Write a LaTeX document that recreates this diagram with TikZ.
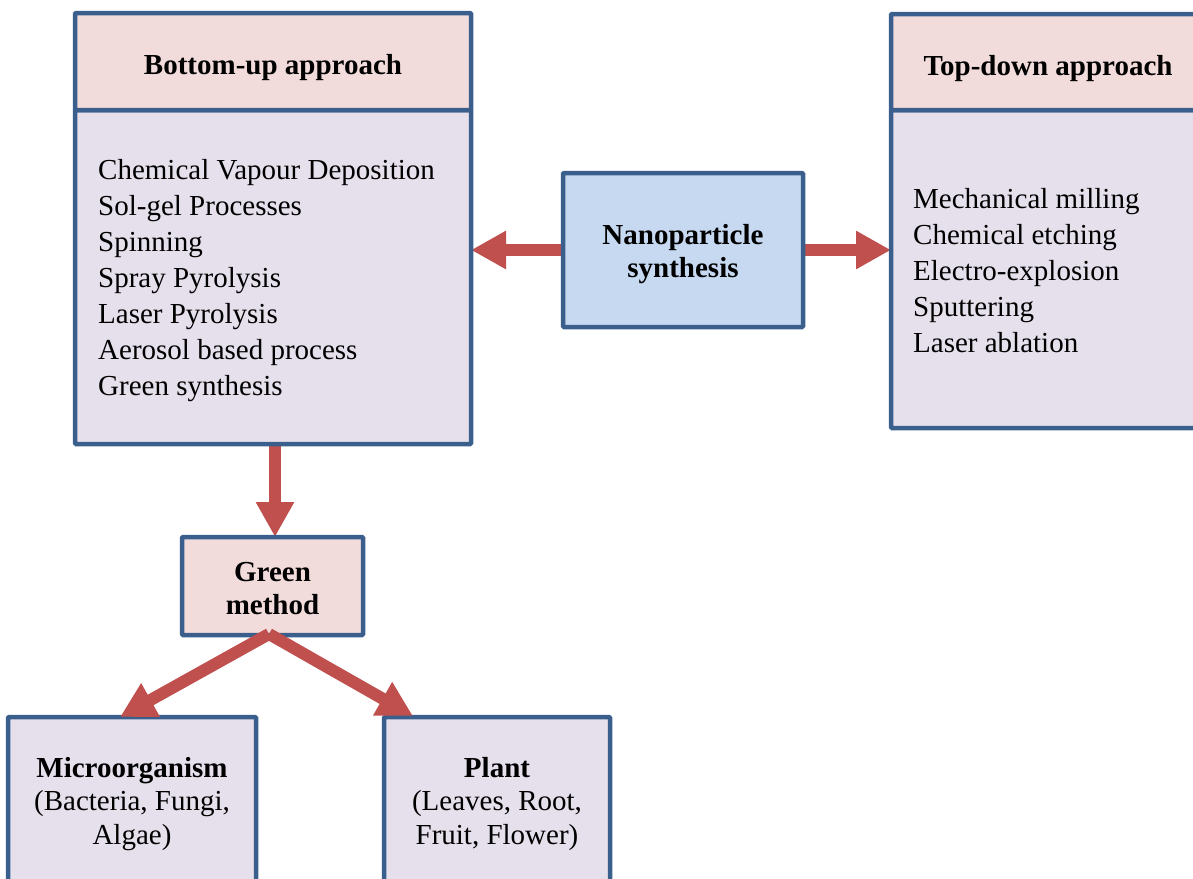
\documentclass[tikz,border=0pt]{standalone}
\usepackage{fontspec}
\setmainfont{Liberation Serif}
\usetikzlibrary{arrows.meta,backgrounds}
\definecolor{bordc}{HTML}{3B5F8D}
\definecolor{hdrc}{HTML}{F2DCDB}
\definecolor{bodyc}{HTML}{E5E0EC}
\definecolor{nanoc}{HTML}{C6D9F1}
\definecolor{arrc}{HTML}{C0504D}
\tikzset{
  box/.style={draw=bordc, line width=4.5pt, rounded corners=1pt, inner sep=0pt, outer sep=0pt},
  hdr/.style={box, fill=hdrc},
  bodybox/.style={box, fill=bodyc},
  nanobox/.style={box, fill=nanoc},
  boldtext/.style={font=\fontsize{29}{33}\selectfont\bfseries, align=center, inner sep=0pt},
  listtext/.style={font=\fontsize{29}{36}\selectfont, align=left, inner sep=0pt, anchor=west},
  leaftext/.style={font=\fontsize{29}{33.5}\selectfont, align=center, inner sep=0pt},
  blockarrow/.style={draw=arrc, line width=12pt, -{Triangle[width=36pt,length=35pt]}, arrc}
}
\begin{document}
\begin{tikzpicture}[x=1pt,y=-1pt]
\clip (0,0) rectangle (1193,878);
% Bottom-up approach
\node[bodybox, minimum width=396pt, minimum height=334pt] (bu) at (273,277) {};
\node[hdr, minimum width=396pt, minimum height=97pt] (buh) at (273,61.5) {};
\node[boldtext] (buht) at (273,67.5) {Bottom-up approach};
\node[listtext] (bul) at (98,280.5) {Chemical Vapour Deposition\\Sol-gel Processes\\Spinning\\Spray Pyrolysis\\Laser Pyrolysis\\Aerosol based process\\Green synthesis};
% Top-down approach
\node[bodybox, minimum width=314pt, minimum height=318pt] (td) at (1048,269) {};
\node[hdr, minimum width=314pt, minimum height=96pt] (tdh) at (1048,62) {};
\node[boldtext] (tdht) at (1048,69) {Top-down approach};
\node[listtext] (tdl) at (913,270.5) {Mechanical milling\\Chemical etching\\Electro-explosion\\Sputtering\\Laser ablation};
% Nanoparticle synthesis
\node[nanobox, minimum width=240pt, minimum height=154pt] (nano) at (683,250) {};
\node[boldtext] (nanot) at (683,254) {Nanoparticle\\synthesis};
% Green method
\node[hdr, minimum width=181pt, minimum height=98pt] (gm) at (272.5,586) {};
\node[boldtext] (gmt) at (272.5,588.5) {Green\\method};
% Leaves
\node[bodybox, minimum width=248pt, minimum height=167pt] (mo) at (132,800.5) {};
\node[leaftext] (mot) at (132,804) {\textbf{Microorganism}\\(Bacteria, Fungi,\\Algae)};
\node[bodybox, minimum width=226pt, minimum height=167pt] (pl) at (497,800.5) {};
\node[leaftext] (plt) at (497,804) {\textbf{Plant}\\(Leaves, Root,\\Fruit, Flower)};
\coordinate (motip) at (120,717);
\coordinate (pltip) at (413,716);
\coordinate (apex) at (269,634);
\coordinate (downstart) at (275,444);
\begin{scope}[on background layer]
\draw[blockarrow] (nano.west) -- (bu.east |- nano.west);
\draw[blockarrow] (nano.east) -- (td.west |- nano.east);
\draw[blockarrow] (downstart) -- (downstart |- gm.north);
\end{scope}
\draw[blockarrow] (apex) -- (motip);
\draw[blockarrow] (apex) -- (pltip);
\end{tikzpicture}
\end{document}
